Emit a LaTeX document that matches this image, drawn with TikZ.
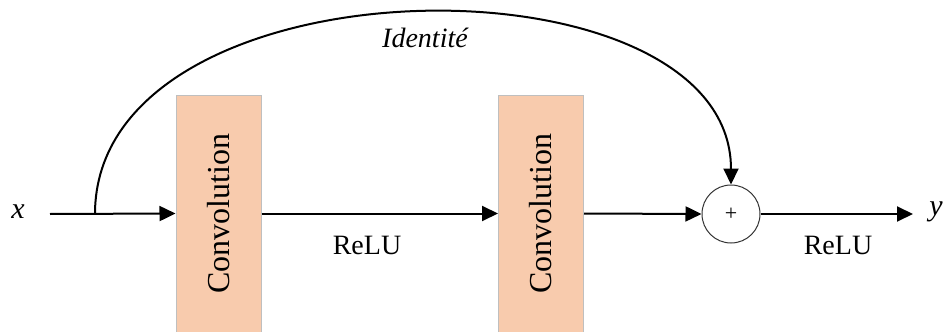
\documentclass[tikz,border=0pt]{standalone}
\usepackage{fontspec}
\setmainfont{Liberation Serif}
\usetikzlibrary{arrows.meta}
\definecolor{convfill}{HTML}{F8CBAD}
\definecolor{convedge}{HTML}{BFBFBF}
\tikzset{
  flow/.style={line width=1pt,-{Triangle[length=8pt,width=7.5pt]}},
  convbox/.style={draw=convedge,line width=0.5pt,fill=convfill,minimum width=42.5pt,minimum height=118.5pt,inner sep=0pt},
  convtext/.style={font=\fontsize{16}{19}\selectfont,rotate=90},
  lbl/.style={font=\fontsize{14}{17}\selectfont,inner sep=0pt},
  sumnode/.style={circle,draw=black!80,line width=0.5pt,minimum size=29pt,inner sep=0pt,font=\fontsize{11}{13}\selectfont}
}
\begin{document}
\begin{tikzpicture}[x=0.5pt,y=-0.5pt]
\useasboundingbox (0,0) rectangle (944,332);
% input and output
\node[lbl,font=\fontsize{15}{18}\selectfont\itshape] (xin) at (18,212) {x};
\coordinate (xstart) at (50,214);
\coordinate (split) at (95,214);
% convolution blocks
\node[convbox] (c1) at (218.5,213.5) {};
\node[convtext] at (c1.center) {Convolution};
\node[convbox] (c2) at (541,213.5) {};
\node[convtext] at (c2.center) {Convolution};
% addition
\node[sumnode] (sum) at (731,214) {+};
\coordinate (yend) at (913,214);
\node[lbl,font=\fontsize{15}{18}\selectfont\itshape,anchor=west] (yout) at (929,212) {y};
% main path
\draw[flow] (xstart) -- (c1.west);
\draw[flow] (c1.east) -- (c2.west);
\draw[flow] (c2.east) -- (sum.west);
\draw[flow] (sum.east) -- (yend);
\node[lbl] (relu1) at (367,245) {ReLU};
\node[lbl] (relu2) at (838,245) {ReLU};
% skip connection
\draw[flow] (split) .. controls (95,-46) and (731,-52) .. (sum.north);
\node[lbl,font=\fontsize{14}{17}\selectfont\itshape] (ident) at (425,38) {Identité};
\end{tikzpicture}
\end{document}
